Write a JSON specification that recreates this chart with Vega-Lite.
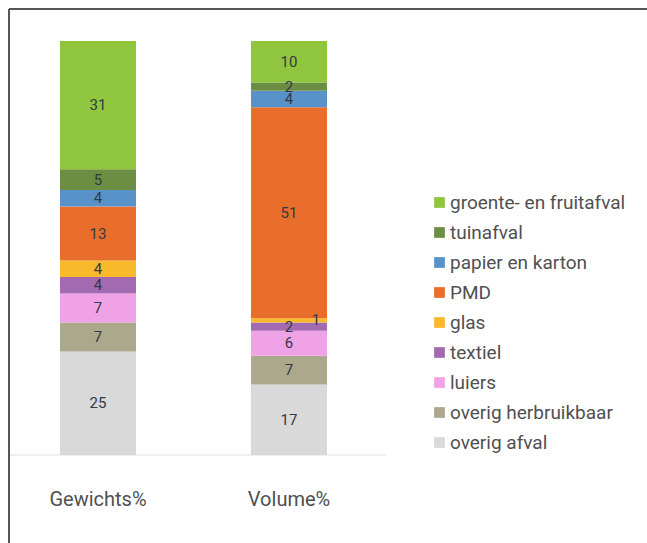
{
  "$schema": "https://vega.github.io/schema/vega-lite/v6.json",
  "width": 638,
  "height": 534,
  "autosize": {"type": "none"},
  "padding": {"left": 9, "top": 9, "right": 0, "bottom": 0},
  "background": "white",
  "config": {
    "view": {"stroke": null},
    "font": "Roboto"
  },
  "datasets": {
    "waste": [
      {"bar": "Gewichts%", "cat": "overig afval", "o": 1, "v": 25},
      {"bar": "Gewichts%", "cat": "overig herbruikbaar", "o": 2, "v": 7},
      {"bar": "Gewichts%", "cat": "luiers", "o": 3, "v": 7},
      {"bar": "Gewichts%", "cat": "textiel", "o": 4, "v": 4},
      {"bar": "Gewichts%", "cat": "glas", "o": 5, "v": 4},
      {"bar": "Gewichts%", "cat": "PMD", "o": 6, "v": 13},
      {"bar": "Gewichts%", "cat": "papier en karton", "o": 7, "v": 4},
      {"bar": "Gewichts%", "cat": "tuinafval", "o": 8, "v": 5},
      {"bar": "Gewichts%", "cat": "groente- en fruitafval", "o": 9, "v": 31},
      {"bar": "Volume%", "cat": "overig afval", "o": 1, "v": 17},
      {"bar": "Volume%", "cat": "overig herbruikbaar", "o": 2, "v": 7},
      {"bar": "Volume%", "cat": "luiers", "o": 3, "v": 6},
      {"bar": "Volume%", "cat": "textiel", "o": 4, "v": 2},
      {"bar": "Volume%", "cat": "glas", "o": 5, "v": 1},
      {"bar": "Volume%", "cat": "PMD", "o": 6, "v": 51},
      {"bar": "Volume%", "cat": "papier en karton", "o": 7, "v": 4},
      {"bar": "Volume%", "cat": "tuinafval", "o": 8, "v": 2},
      {"bar": "Volume%", "cat": "groente- en fruitafval", "o": 9, "v": 10}
    ],
    "bars": [{"bar": "Gewichts%"}, {"bar": "Volume%"}]
  },
  "data": {"name": "waste"},
  "encoding": {
    "x": {
      "field": "bar",
      "type": "nominal",
      "scale": {"domain": ["Gewichts%", "Volume%"], "paddingInner": 0.6021, "paddingOuter": 0.9712, "align": 0.1375},
      "axis": null
    }
  },
  "layer": [
    {
      "mark": {"type": "bar", "strokeWidth": 0},
      "encoding": {
        "y": {
          "field": "v",
          "type": "quantitative",
          "stack": "zero",
          "scale": {"domain": [-21.26, 107.73], "nice": false, "zero": false},
          "axis": null
        },
        "order": {"field": "o", "type": "quantitative", "sort": "ascending"},
        "color": {
          "field": "cat",
          "type": "nominal",
          "scale": {
            "domain": ["groente- en fruitafval", "tuinafval", "papier en karton", "PMD", "glas", "textiel", "luiers", "overig herbruikbaar", "overig afval"],
            "range": ["#90c53e", "#6c8e42", "#5892c8", "#e96e2b", "#f8b92d", "#a46ab1", "#f0a2e6", "#aca88c", "#d9d9d9"]
          },
          "legend": {
            "orient": "none",
            "legendX": 421,
            "legendY": 184,
            "title": null,
            "symbolType": "square",
            "symbolSize": 115,
            "symbolStrokeWidth": 0,
            "labelFontSize": 19,
            "labelLimit": 400,
            "labelColor": "#505050",
            "labelOffset": 1,
            "rowPadding": 10,
            "padding": 0
          }
        }
      }
    },
    {
      "data": {"name": "bars"},
      "transform": [{"filter": "datum.bar == 'Gewichts%'"}],
      "mark": {"type": "tick", "orient": "horizontal", "size": 377, "thickness": 1, "color": "#d4d4d4", "xOffset": 99.5},
      "encoding": {
        "y": {"datum": 0, "type": "quantitative"}
      }
    },
    {
      "data": {"name": "bars"},
      "transform": [{"filter": "datum.bar == 'Gewichts%'"}],
      "mark": {"type": "rule", "strokeWidth": 2, "color": "#555555", "xOffset": -89},
      "encoding": {}
    },
    {
      "data": {"name": "bars"},
      "transform": [{"filter": "datum.bar == 'Gewichts%'"}],
      "mark": {"type": "rule", "strokeWidth": 2, "color": "#555555"},
      "encoding": {
        "x": null,
        "y": {"datum": 107.73, "type": "quantitative"}
      }
    },
    {
      "transform": [
        {"stack": "v", "groupby": ["bar"], "sort": [{"field": "o", "order": "ascending"}], "as": ["s0", "s1"]},
        {"calculate": "(datum.s0 + datum.s1) / 2", "as": "mid"},
        {"filter": "datum.v >= 2"}
      ],
      "mark": {"type": "text", "fontSize": 15, "color": "#333a44", "baseline": "middle"},
      "encoding": {
        "y": {"field": "mid", "type": "quantitative"},
        "text": {"field": "v", "type": "quantitative"}
      }
    },
    {
      "transform": [
        {"stack": "v", "groupby": ["bar"], "sort": [{"field": "o", "order": "ascending"}], "as": ["s0", "s1"]},
        {"calculate": "(datum.s0 + datum.s1) / 2", "as": "mid"},
        {"filter": "datum.v < 2"}
      ],
      "mark": {"type": "text", "fontSize": 15, "color": "#333a44", "baseline": "middle", "dx": 27},
      "encoding": {
        "y": {"field": "mid", "type": "quantitative"},
        "text": {"field": "v", "type": "quantitative"}
      }
    },
    {
      "data": {"name": "bars"},
      "mark": {"type": "text", "fontSize": 20, "color": "#505050", "baseline": "middle"},
      "encoding": {
        "y": {"datum": -10.9, "type": "quantitative"},
        "text": {"field": "bar", "type": "nominal"}
      }
    }
  ]
}
